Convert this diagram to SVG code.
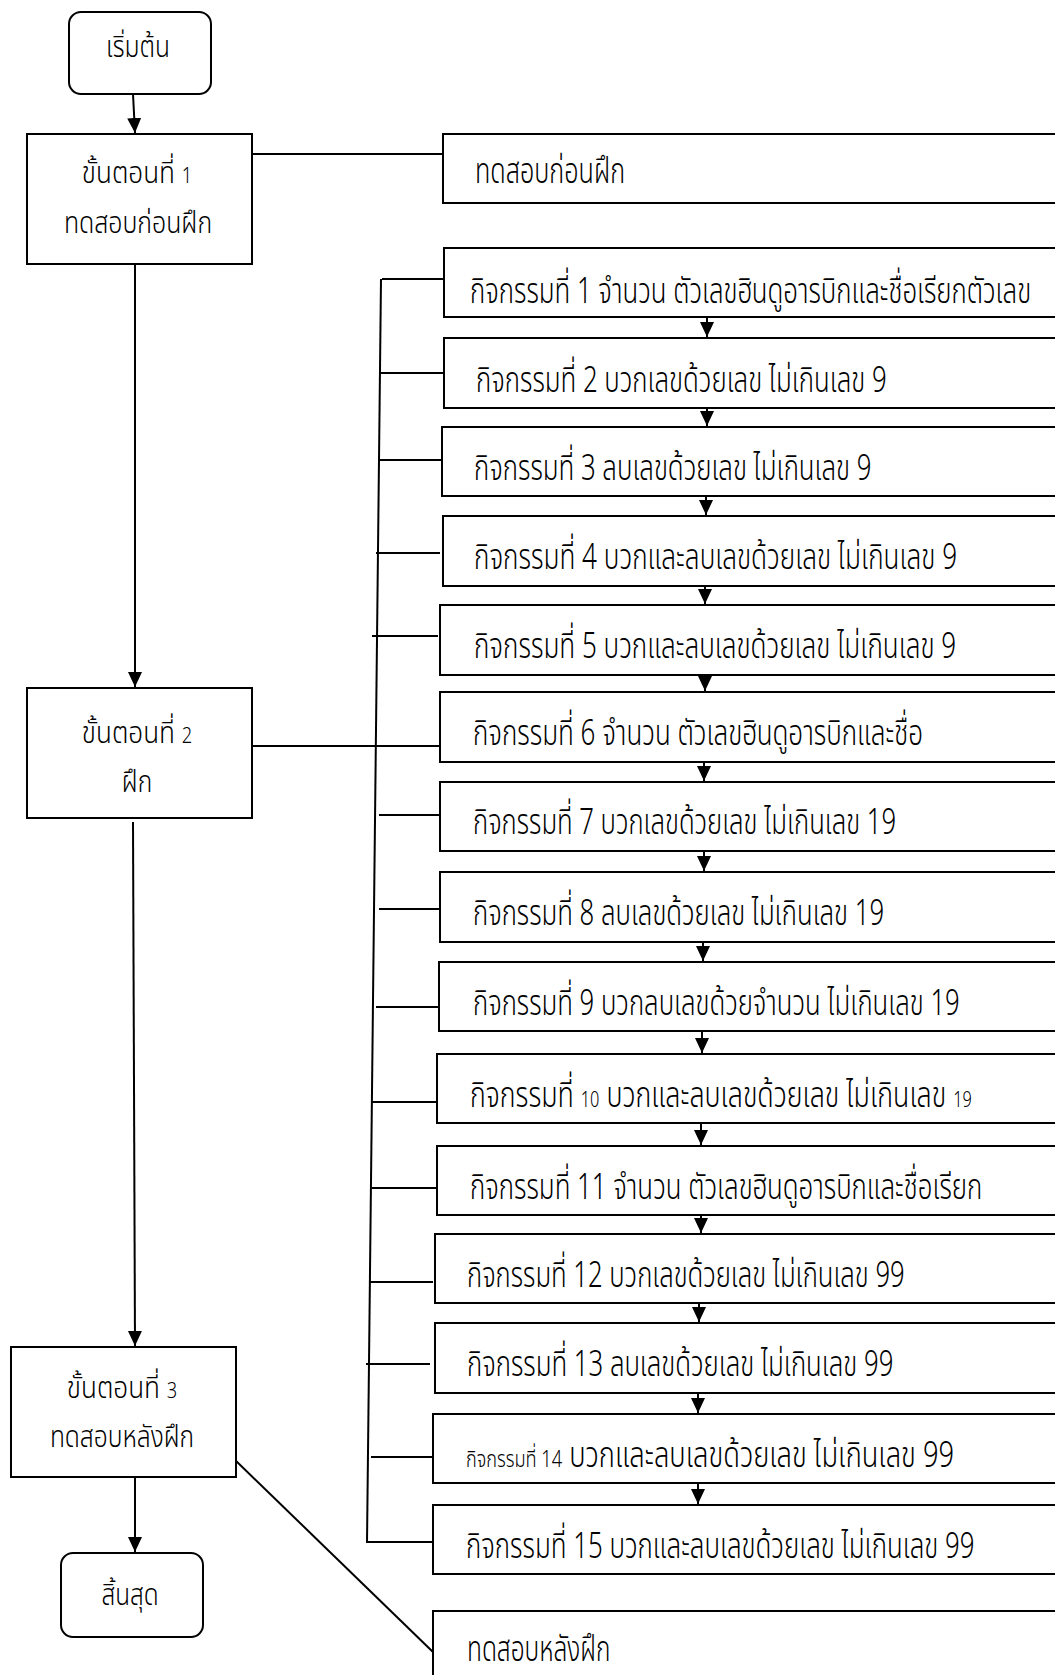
<svg xmlns="http://www.w3.org/2000/svg" width="1055" height="1675" viewBox="0 0 1055 1675">
  <style>
    .box { fill: #fff; stroke: #000; stroke-width: 2; }
    .ln { fill: none; stroke: #000; stroke-width: 2; }
    .ln-arrow { fill: none; stroke: #000; stroke-width: 2; marker-end: url(#tip); }
    .step { font-family: "Noto Sans Thai", "Noto Sans", "DejaVu Sans", sans-serif; font-size: 30px; font-weight: 300; fill: #000; text-anchor: middle; }
    .act { font-family: "Noto Sans Thai", "Noto Sans", "DejaVu Sans", sans-serif; font-size: 36px; font-weight: 300; fill: #000; }
    .sm { font-size: 22px; }
    .num { font-size: 21px; }
    .pre { font-size: 24px; }
  </style>
  <defs>
    <marker id="tip" markerUnits="userSpaceOnUse" markerWidth="18" markerHeight="18" refX="15" refY="8" orient="auto">
      <path d="M0,1 L15,8 L0,15 Z" fill="#000"/>
    </marker>
  </defs>

  <!-- connectors -->
  <g id="connectors">
    <!-- main flow down the left column -->
    <line class="ln-arrow" x1="133" y1="94" x2="135" y2="133"/>
    <line class="ln-arrow" x1="135" y1="264" x2="135" y2="687"/>
    <line class="ln-arrow" x1="133" y1="822" x2="135" y2="1346"/>
    <line class="ln-arrow" x1="135" y1="1477" x2="135" y2="1552"/>
    <!-- step links to the right column -->
    <line class="ln" x1="252" y1="154" x2="443" y2="154"/>
    <line class="ln" x1="252" y1="746" x2="443" y2="746"/>
    <line class="ln" x1="233" y1="1458" x2="433" y2="1652"/>
    <!-- bracket spine and its stubs -->
    <line class="ln" x1="381" y1="279" x2="367" y2="1543"/>
    <line class="ln" x1="382" y1="279" x2="447" y2="279"/>
    <line class="ln" x1="380" y1="373" x2="443" y2="373"/>
    <line class="ln" x1="379" y1="460" x2="443" y2="460"/>
    <line class="ln" x1="376" y1="553" x2="440" y2="553"/>
    <line class="ln" x1="372" y1="636" x2="438" y2="636"/>
    <line class="ln" x1="379" y1="815" x2="443" y2="815"/>
    <line class="ln" x1="379" y1="909" x2="443" y2="909"/>
    <line class="ln" x1="376" y1="1007" x2="440" y2="1007"/>
    <line class="ln" x1="372" y1="1102" x2="437" y2="1102"/>
    <line class="ln" x1="372" y1="1188" x2="437" y2="1188"/>
    <line class="ln" x1="369" y1="1282" x2="433" y2="1282"/>
    <line class="ln" x1="366" y1="1364" x2="430" y2="1364"/>
    <line class="ln" x1="371" y1="1457" x2="435" y2="1457"/>
    <line class="ln" x1="366" y1="1542" x2="432" y2="1542"/>
    <!-- activity chain -->
    <line class="ln-arrow" x1="707" y1="317" x2="707" y2="337"/>
    <line class="ln-arrow" x1="707" y1="408" x2="707" y2="426"/>
    <line class="ln-arrow" x1="706" y1="496" x2="706" y2="515"/>
    <line class="ln-arrow" x1="705" y1="586" x2="705" y2="604"/>
    <line class="ln-arrow" x1="705" y1="675" x2="705" y2="691"/>
    <line class="ln-arrow" x1="704" y1="762" x2="704" y2="781"/>
    <line class="ln-arrow" x1="704" y1="851" x2="704" y2="871"/>
    <line class="ln-arrow" x1="703" y1="942" x2="703" y2="961"/>
    <line class="ln-arrow" x1="702" y1="1031" x2="702" y2="1053"/>
    <line class="ln-arrow" x1="701" y1="1123" x2="701" y2="1145"/>
    <line class="ln-arrow" x1="701" y1="1215" x2="701" y2="1233"/>
    <line class="ln-arrow" x1="699" y1="1303" x2="699" y2="1322"/>
    <line class="ln-arrow" x1="698" y1="1393" x2="698" y2="1413"/>
    <line class="ln-arrow" x1="698" y1="1483" x2="698" y2="1504"/>
  </g>

  <!-- left column -->
  <g id="start">
    <rect class="box" x="69" y="12" width="142" height="82" rx="12"/>
    <text class="step" transform="translate(138 57) scale(0.82 1)">เริ่มต้น</text>
  </g>
  <g id="step1">
    <rect class="box" x="27" y="134" width="225" height="130"/>
    <text class="step" transform="translate(137 183) scale(0.87 1)">ขั้นตอนที่ <tspan class="num">1</tspan></text>
    <text class="step" transform="translate(138 233) scale(0.83 1)">ทดสอบก่อนฝึก</text>
  </g>
  <g id="step2">
    <rect class="box" x="27" y="688" width="225" height="130"/>
    <text class="step" transform="translate(137 743) scale(0.87 1)">ขั้นตอนที่ <tspan class="num">2</tspan></text>
    <text class="step" transform="translate(137 792) scale(0.82 1)">ฝึก</text>
  </g>
  <g id="step3">
    <rect class="box" x="11" y="1347" width="225" height="130"/>
    <text class="step" transform="translate(122 1398) scale(0.87 1)">ขั้นตอนที่ <tspan class="num">3</tspan></text>
    <text class="step" transform="translate(122 1447) scale(0.82 1)">ทดสอบหลังฝึก</text>
  </g>
  <g id="end">
    <rect class="box" x="61" y="1553" width="142" height="84" rx="12"/>
    <text class="step" transform="translate(130 1605) scale(0.81 1)">สิ้นสุด</text>
  </g>

  <!-- right column -->
  <g id="pretest">
    <rect class="box" x="443" y="134" width="640" height="69"/>
    <text class="act" transform="translate(475 183) scale(0.70 1)">ทดสอบก่อนฝึก</text>
  </g>
  <g id="act1">
    <rect class="box" x="444" y="248" width="640" height="69"/>
    <text class="act" transform="translate(470 303) scale(0.717 1)">กิจกรรมที่ 1 จำนวน ตัวเลขฮินดูอารบิกและชื่อเรียกตัวเลข</text>
  </g>
  <g id="act2">
    <rect class="box" x="444" y="338" width="640" height="70"/>
    <text class="act" transform="translate(476 392) scale(0.717 1)">กิจกรรมที่ 2 บวกเลขด้วยเลข ไม่เกินเลข 9</text>
  </g>
  <g id="act3">
    <rect class="box" x="442" y="427" width="640" height="69"/>
    <text class="act" transform="translate(474 480) scale(0.717 1)">กิจกรรมที่ 3 ลบเลขด้วยเลข ไม่เกินเลข 9</text>
  </g>
  <g id="act4">
    <rect class="box" x="443" y="516" width="640" height="70"/>
    <text class="act" transform="translate(474 569) scale(0.725 1)">กิจกรรมที่ 4 บวกและลบเลขด้วยเลข ไม่เกินเลข 9</text>
  </g>
  <g id="act5">
    <rect class="box" x="440" y="605" width="640" height="70"/>
    <text class="act" transform="translate(474 658) scale(0.724 1)">กิจกรรมที่ 5 บวกและลบเลขด้วยเลข ไม่เกินเลข 9</text>
  </g>
  <g id="act6">
    <rect class="box" x="440" y="692" width="640" height="70"/>
    <text class="act" transform="translate(473 745) scale(0.722 1)">กิจกรรมที่ 6 จำนวน ตัวเลขฮินดูอารบิกและชื่อ</text>
  </g>
  <g id="act7">
    <rect class="box" x="440" y="782" width="640" height="69"/>
    <text class="act" transform="translate(473 834) scale(0.713 1)">กิจกรรมที่ 7 บวกเลขด้วยเลข ไม่เกินเลข 19</text>
  </g>
  <g id="act8">
    <rect class="box" x="440" y="872" width="640" height="70"/>
    <text class="act" transform="translate(473 925) scale(0.715 1)">กิจกรรมที่ 8 ลบเลขด้วยเลข ไม่เกินเลข 19</text>
  </g>
  <g id="act9">
    <rect class="box" x="439" y="962" width="640" height="69"/>
    <text class="act" transform="translate(473 1015) scale(0.715 1)">กิจกรรมที่ 9 บวกลบเลขด้วยจำนวน ไม่เกินเลข 19</text>
  </g>
  <g id="act10">
    <rect class="box" x="437" y="1054" width="640" height="69"/>
    <text class="act" transform="translate(470 1107) scale(0.743 1)">กิจกรรมที่ <tspan class="sm">10</tspan> บวกและลบเลขด้วยเลข ไม่เกินเลข <tspan class="sm">19</tspan></text>
  </g>
  <g id="act11">
    <rect class="box" x="437" y="1146" width="640" height="69"/>
    <text class="act" transform="translate(470 1199) scale(0.718 1)">กิจกรรมที่ 11 จำนวน ตัวเลขฮินดูอารบิกและชื่อเรียก</text>
  </g>
  <g id="act12">
    <rect class="box" x="435" y="1234" width="640" height="69"/>
    <text class="act" transform="translate(467 1287) scale(0.713 1)">กิจกรรมที่ 12 บวกเลขด้วยเลข ไม่เกินเลข 99</text>
  </g>
  <g id="act13">
    <rect class="box" x="435" y="1323" width="640" height="70"/>
    <text class="act" transform="translate(467 1376) scale(0.716 1)">กิจกรรมที่ 13 ลบเลขด้วยเลข ไม่เกินเลข 99</text>
  </g>
  <g id="act14">
    <rect class="box" x="433" y="1414" width="640" height="69"/>
    <text class="act" transform="translate(466 1467) scale(0.758 1)"><tspan class="pre">กิจกรรมที่ 14</tspan> บวกและลบเลขด้วยเลข ไม่เกินเลข 99</text>
  </g>
  <g id="act15">
    <rect class="box" x="433" y="1505" width="640" height="69"/>
    <text class="act" transform="translate(466 1558) scale(0.719 1)">กิจกรรมที่ 15 บวกและลบเลขด้วยเลข ไม่เกินเลข 99</text>
  </g>
  <g id="posttest">
    <rect class="box" x="433" y="1611" width="640" height="80"/>
    <text class="act" transform="translate(467 1661) scale(0.68 1)">ทดสอบหลังฝึก</text>
  </g>
</svg>
